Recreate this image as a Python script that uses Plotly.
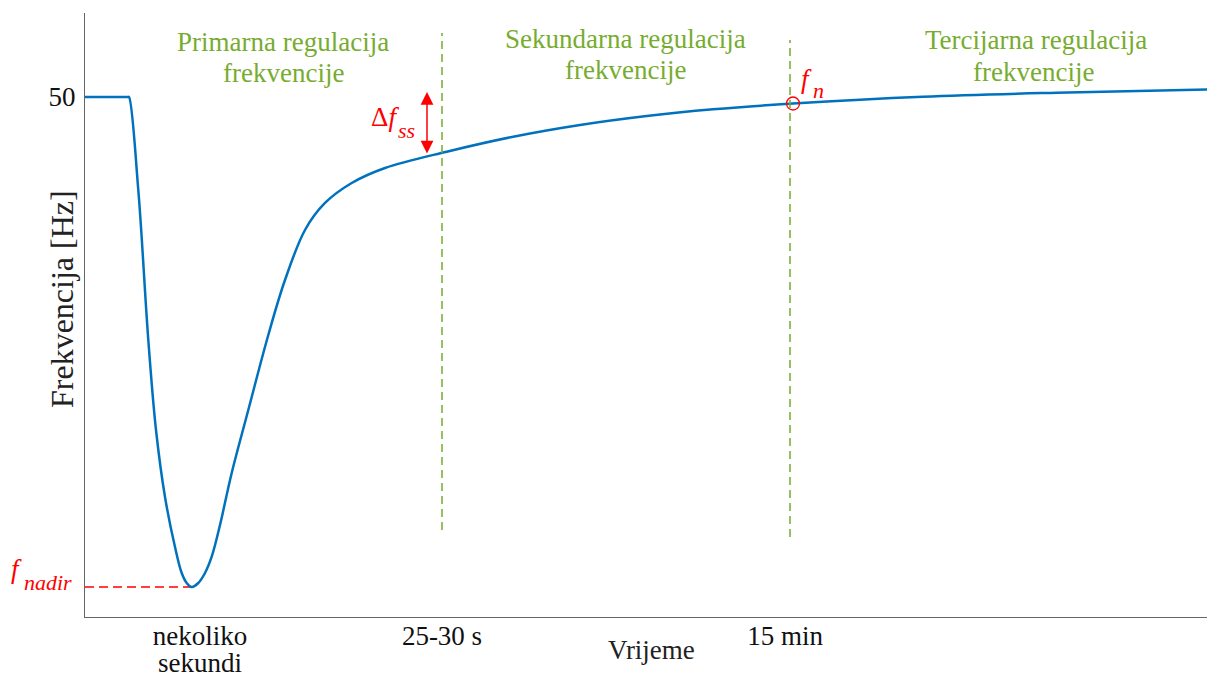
import plotly.graph_objects as go

# ---- data (time in arbitrary units, frequency in Hz) ----
time = [0, 43, 44, 53.3, 63.3, 71, 80, 90, 96.7, 101.7, 106.7, 113.3, 120, 126.7, 135,
        146.7, 163.3, 183.3, 200, 220, 240, 266.7, 300, 361.7, 428.3, 495, 561.7,
        628, 708, 838, 971.7, 1130]
freq = [50.0, 50.0, 50.0, 49.8102, 49.5041, 49.3204, 49.1837, 49.0816, 49.0286, 49.0082,
        49.0, 49.0082, 49.0286, 49.0618, 49.1265, 49.2327, 49.3612, 49.5143,
        49.6265, 49.7286, 49.7837, 49.8245, 49.8551, 49.8884, 49.9190, 49.9429,
        49.9612, 49.9749, 49.9867, 50.0006, 50.0088, 50.0157]

tick_times = [115, 357, 700]
tick_labels = ["nekoliko", "25-30 s", "15 min"]
tick_second_line = ["sekundi", "", ""]
y_ticks = [50]
y_tick_labels = ["50"]

boundaries = [357, 705]          # region boundaries (primary/secondary/tertiary)
region_titles = [("Primarna regulacija", "frekvencije"),
                 ("Sekundarna regulacija", "frekvencije"),
                 ("Tercijarna regulacija", "frekvencije")]

nadir_idx = freq.index(min(freq))
t_nadir, f_nadir = time[nadir_idx], freq[nadir_idx]
fn_idx = time.index(708)
t_n, f_n = time[fn_idx], freq[fn_idx]
dfss_t = 342
dfss_top, dfss_bottom = 50.0102, 49.8816

BLUE = "#0072BD"
GREEN = "#77AC30"
RED = "#FF0000"
FONT = "Liberation Serif"

# the page body has an 8px margin; the figure is sized so it fills the window
OFF = 8
W, H = 1215 - OFF, 678 - OFF
PL, PT, PR, PB = 85, 13, 1215, 617          # plot box in window pixels
L, T = PL - OFF, PT - OFF
R, B = 0, H - (PB - OFF)
PW, PH = PR - PL, PB - PT


def px(xp):
    return (xp - PL) / PW


def py(yp):
    return (PB - yp) / PH


fig = go.Figure()

# nadir dashed reference line
fig.add_trace(go.Scatter(x=[0, t_nadir], y=[f_nadir, f_nadir], mode="lines",
                         line=dict(color=RED, width=1.5, dash="9px,5px"),
                         hoverinfo="skip", showlegend=False))

# frequency response
fig.add_trace(go.Scatter(x=time, y=freq, mode="lines",
                         line=dict(color=BLUE, width=2.5, shape="spline", smoothing=1.0),
                         showlegend=False))

# f_n marker
fig.add_trace(go.Scatter(x=[t_n], y=[f_n], mode="markers",
                         marker=dict(symbol="circle-open", size=13, color=RED,
                                     line=dict(width=1.3, color=RED)),
                         showlegend=False))

# region boundaries
shape_ext = [(py(530), py(33)), (py(537), py(40))]
for b, (y0, y1) in zip(boundaries, shape_ext):
    fig.add_shape(type="line", xref="x", yref="paper", x0=b, x1=b, y0=y0, y1=y1,
                  line=dict(color=GREEN, width=1.5, dash="8px,5px"))

ann = []


def label(text, x, y, size=27, color="#111", xanchor="center", **kw):
    ann.append(dict(text=text, x=px(x), y=py(y), xref="paper", yref="paper",
                    xanchor=xanchor, yanchor="middle", showarrow=False,
                    font=dict(family=FONT, size=size, color=color), **kw))


# region titles
title_pos = [(283, 41.6, 283, 72.6), (625, 39, 625, 70.5), (1036, 40.2, 1033, 71.9)]
for (l1, l2), (cx1, y1, cx2, y2) in zip(region_titles, title_pos):
    label(l1, cx1, y1, color=GREEN)
    label(l2, cx2, y2, color=GREEN)

# second line of the first tick label
for t, s in zip(tick_times, tick_second_line):
    if s:
        ann.append(dict(text=s, x=t, y=py(663), xref="x", yref="paper",
                        xanchor="center", yanchor="middle", showarrow=False,
                        font=dict(family=FONT, size=27, color="#111")))

# Δf_ss arrow
ann.append(dict(x=dfss_t, y=dfss_top, ax=dfss_t, ay=dfss_bottom, xref="x", yref="y",
                axref="x", ayref="y", text="", showarrow=True, arrowhead=2,
                startarrowhead=2, arrowside="end+start", arrowsize=1.7,
                startarrowsize=1.7, arrowwidth=1.5, arrowcolor=RED))
label("Δ<i>f</i>", 369, 117, color=RED, xanchor="left")
label("<i>ss</i>", 396, 130.6, size=22, color=RED, xanchor="left")
# f_n label
label("<i>f</i>", 799, 79, color=RED, xanchor="left")
label("<i>n</i>", 811, 90.6, size=22, color=RED, xanchor="left")
# f_nadir label
label("<i>f</i>", 9, 569, color=RED, xanchor="left")
label("<i>nadir</i>", 22, 582.6, size=22, color=RED, xanchor="left")
# axis titles
label("Vrijeme", 651, 650, color="#222")
label("Frekvencija [Hz]", 62, 299, size=32, color="#222", textangle=-90)

fig.update_layout(
    width=W, height=H,
    margin=dict(l=L, r=R, t=T, b=B, autoexpand=False),
    paper_bgcolor="white", plot_bgcolor="white",
    showlegend=False,
    annotations=ann,
    xaxis=dict(range=[0, 1130], showline=True, linecolor="#666", linewidth=1.2,
               showgrid=False, zeroline=False, ticks="", tickvals=tick_times,
               ticktext=tick_labels, ticklabelstandoff=-6,
               tickfont=dict(family=FONT, size=27, color="#111")),
    yaxis=dict(range=[48.93878, 50.17143], showline=True, linecolor="#666",
               linewidth=1.2, showgrid=False, zeroline=False, ticks="",
               tickvals=y_ticks, ticktext=y_tick_labels, ticklabelstandoff=3,
               tickfont=dict(family=FONT, size=27, color="#111")),
)

fig.write_html("out.html")
